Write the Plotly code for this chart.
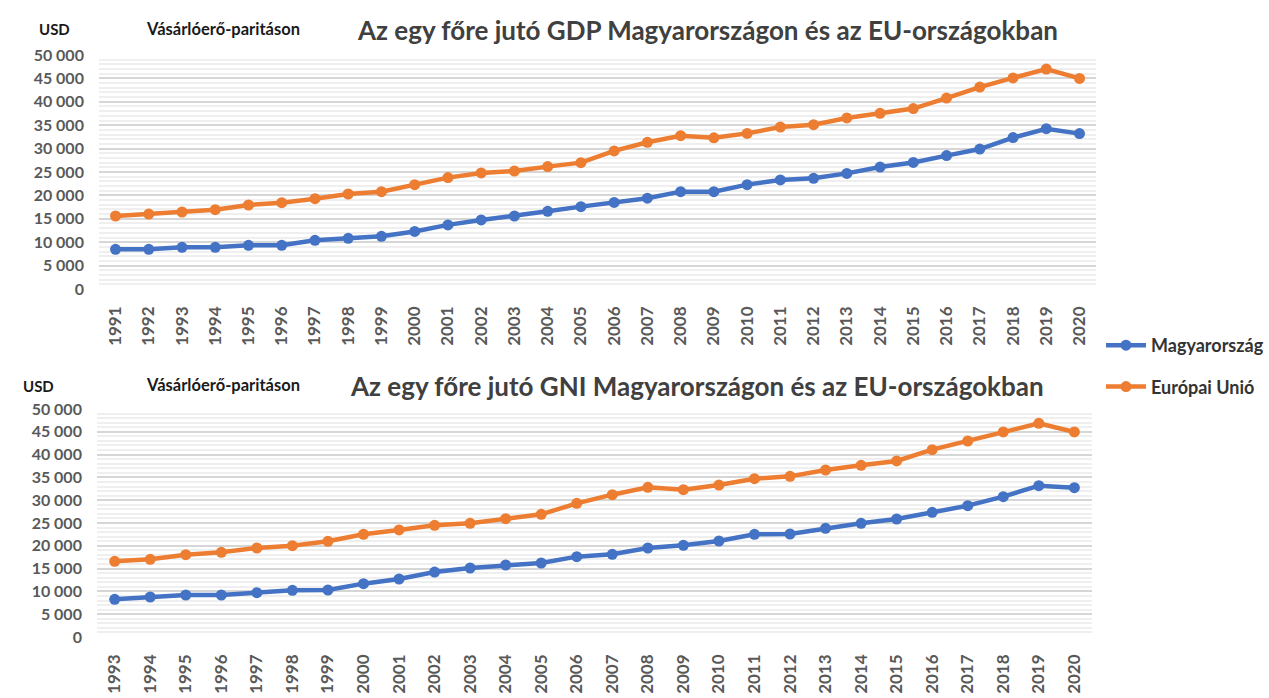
import plotly.graph_objects as go

# GDP per capita at purchasing power parity, USD (1991-2020)
gdp_years = [str(y) for y in range(1991, 2021)]
gdp_hu = [8480, 8480, 8900, 8900, 9330, 9330, 10400, 10830, 11250, 12300,
          13700, 14750, 15600, 16600, 17600, 18500, 19400, 20800, 20800, 22300,
          23300, 23650, 24700, 26050, 27050, 28500, 29900, 32350, 34250, 33200]
gdp_eu = [15600, 16000, 16450, 16950, 17950, 18450, 19300, 20300, 20800, 22300,
          23800, 24800, 25200, 26150, 27000, 29500, 31350, 32750, 32300, 33250,
          34600, 35100, 36550, 37550, 38550, 40800, 43150, 45100, 47000, 45000]

# GNI per capita at purchasing power parity, USD (1993-2020)
gni_years = [str(y) for y in range(1993, 2021)]
gni_hu = [8260, 8770, 9210, 9210, 9720, 10230, 10310, 11700, 12720, 14250,
          15130, 15790, 16230, 17620, 18130, 19520, 20100, 21050, 22520, 22590,
          23830, 24930, 25880, 27340, 28800, 30780, 33190, 32750]
gni_eu = [16590, 17030, 18060, 18570, 19520, 20030, 20980, 22520, 23470, 24490,
          24930, 25950, 26900, 29310, 31210, 32820, 32310, 33330, 34720, 35230,
          36620, 37650, 38600, 41080, 42980, 44960, 46860, 44960]

series_names = ["Magyarország", "Európai Unió"]
series_colors = ["#4472C4", "#ED7D31"]

y_ticks = list(range(0, 50001, 5000))

W, H = 1269, 698
FONT = "Lato"


def px_x(p):
    return p / W


def px_y(p):
    return 1 - p / H


fig = go.Figure()

for name, color, vals in zip(series_names, series_colors, [gdp_hu, gdp_eu]):
    fig.add_trace(go.Scatter(
        x=gdp_years, y=vals, name=name, mode="lines+markers",
        line=dict(color=color, width=4.5), marker=dict(color=color, size=11),
        xaxis="x", yaxis="y", legendgroup=name, cliponaxis=False,
    ))

for name, color, vals in zip(series_names, series_colors, [gni_hu, gni_eu]):
    fig.add_trace(go.Scatter(
        x=gni_years, y=vals, name=name, mode="lines+markers",
        line=dict(color=color, width=4.5), marker=dict(color=color, size=11),
        xaxis="x2", yaxis="y2", legendgroup=name, showlegend=False, cliponaxis=False,
    ))

ytick_font = dict(family=FONT, size=16, color="#595959", weight="bold")
xtick_font = dict(family=FONT, size=17, color="#595959", weight="bold")

yaxis_common = dict(
    range=[0, 50000], tickvals=y_ticks, tickformat=",d",
    showgrid=True, gridcolor="#d6d6d6", gridwidth=2,
    minor=dict(dtick=1000, showgrid=True, gridcolor="#efefef", gridwidth=1.5),
    zeroline=False, showline=False, ticks="", tickfont=ytick_font, ticklabelstandoff=14,
    fixedrange=True, automargin=False,
)
xaxis_common = dict(
    type="category", tickangle=-90, showgrid=False, showline=False, ticks="",
    tickfont=xtick_font, ticklabelstandoff=13, fixedrange=True, automargin=False,
)

fig.update_layout(
    template="none",
    width=W, height=H, autosize=False,
    margin=dict(l=0, r=0, t=0, b=0, pad=0),
    paper_bgcolor="white", plot_bgcolor="white",
    separators=", ",
    font=dict(family=FONT),
    xaxis=dict(domain=[px_x(99), px_x(1097)], range=[-0.5, len(gdp_years) - 0.5],
               anchor="y", **xaxis_common),
    yaxis=dict(domain=[px_y(289), px_y(55)], anchor="x", **yaxis_common),
    xaxis2=dict(domain=[px_x(97), px_x(1093)], range=[-0.5, len(gni_years) - 0.5],
                anchor="y2", **xaxis_common),
    yaxis2=dict(domain=[px_y(637), px_y(409)], anchor="x2", **yaxis_common),
    legend=dict(
        x=px_x(1102), y=px_y(327), xanchor="left", yanchor="top",
        font=dict(family=FONT, size=18, color="#333333", weight="bold"),
        tracegroupgap=15, itemwidth=40, bgcolor="rgba(0,0,0,0)", borderwidth=0,
    ),
    showlegend=True,
)

title_font = dict(family=FONT, size=26, color="#404040", weight="bold")
usd_font = dict(family=FONT, size=15, color="#1a1a1a", weight="bold")
sub_font = dict(family=FONT, size=16.5, color="#1a1a1a", weight="bold")

annotations = [
    dict(text="Az egy főre jutó GDP Magyarországon és az EU-országokban",
         x=px_x(708), y=px_y(30), font=title_font),
    dict(text="USD", x=px_x(55), y=px_y(29), font=usd_font),
    dict(text="Vásárlóerő-paritáson", x=px_x(223), y=px_y(29), font=sub_font),
    dict(text="Az egy főre jutó GNI Magyarországon és az EU-országokban",
         x=px_x(698), y=px_y(386), font=title_font),
    dict(text="USD", x=px_x(39), y=px_y(386), font=usd_font),
    dict(text="Vásárlóerő-paritáson", x=px_x(223), y=px_y(385), font=sub_font),
]
for a in annotations:
    fig.add_annotation(xref="paper", yref="paper", showarrow=False,
                       xanchor="center", yanchor="middle", **a)

fig.write_html(
    "out.html",
    post_script="document.body.style.margin='0';document.body.style.overflow='hidden';",
)
